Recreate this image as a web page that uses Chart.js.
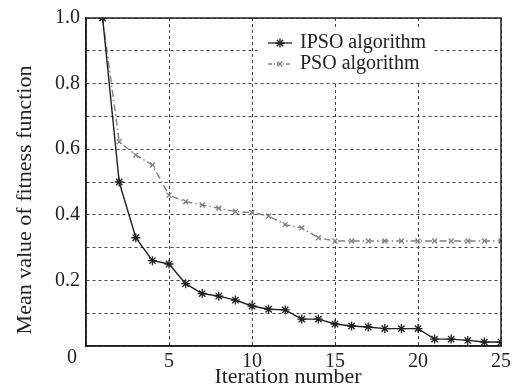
<!DOCTYPE html>
<html>
<head>
<meta charset="utf-8">
<script src="https://cdn.jsdelivr.net/npm/chart.js@4.4.1/dist/chart.umd.min.js"></script>
<style>
  html, body { margin: 0; padding: 0; background: #fff; }
  #wrap { width: 522px; height: 386px; }
</style>
</head>
<body>
<div id="wrap"><canvas id="grafico"></canvas></div>
<script>
// ---- DADOS ----
const iteracoes = [1, 2, 3, 4, 5, 6, 7, 8, 9, 10, 11, 12, 13, 14, 15, 16, 17, 18, 19, 20, 21, 22, 23, 24, 25];
const ipsoValores = [1.0, 0.50, 0.33, 0.26, 0.25, 0.19, 0.16, 0.152, 0.14, 0.122, 0.112, 0.11, 0.082, 0.082, 0.067, 0.061, 0.058, 0.053, 0.053, 0.053, 0.021, 0.021, 0.017, 0.012, 0.012];
const psoValores = [1.0, 0.623, 0.582, 0.552, 0.46, 0.44, 0.43, 0.42, 0.41, 0.407, 0.396, 0.37, 0.36, 0.33, 0.32, 0.32, 0.32, 0.32, 0.32, 0.32, 0.32, 0.32, 0.32, 0.32, 0.32];
const yRotulos = ["0.2", "0.4", "0.6", "0.8", "1.0"];
const xRotulos = ["5", "10", "15", "20", "25"];
const nomesSeries = ["IPSO algorithm", "PSO algorithm"];
const tituloX = "Iteration number";
const tituloY = "Mean value of fitness function";

const fonte = '"Liberation Serif", "Times New Roman", serif';

const estiloIpso = { cor: "#222", dash: [], ponto: "star", raio: 4.5 };
const estiloPso = { cor: "#808080", dash: [7, 3, 1.5, 3], ponto: "crossRot", raio: 3.5 };

// ---- PLUGIN: moldura, titulos, "0" do canto e legenda ----
const extras = {
    id: "extras",
    afterDraw(chart) {
        const ctx = chart.ctx;
        const a = chart.chartArea;
        ctx.save();
        ctx.strokeStyle = "#222";
        ctx.lineWidth = 1.5;
        ctx.strokeRect(a.left, a.top, a.right - a.left, a.bottom - a.top);

        ctx.fillStyle = "#222";
        ctx.font = "20px " + fonte;
        ctx.textAlign = "center";
        ctx.textBaseline = "middle";
        ctx.fillText("0", a.left - 14, a.bottom + 12);

        // titulos dos eixos
        ctx.font = "22px " + fonte;
        ctx.textBaseline = "alphabetic";
        ctx.fillText(tituloX, a.left + 202, chart.height - 3);
        ctx.save();
        ctx.translate(31, a.top + 182);
        ctx.rotate(-Math.PI / 2);
        ctx.fillText(tituloY, 0, 0);
        ctx.restore();

        // legenda
        ctx.font = "20px " + fonte;
        ctx.textBaseline = "middle";
        const lx = a.left + 172, ly = a.top + 12;
        ctx.fillStyle = "#fff";
        ctx.fillRect(lx, ly, 176, 52);
        [estiloIpso, estiloPso].forEach((e, i) => {
            const y = ly + 13 + i * 21;
            ctx.strokeStyle = e.cor;
            ctx.lineWidth = 1.3;
            ctx.setLineDash(e.dash.length ? [4, 2, 1, 2] : []);
            ctx.beginPath();
            ctx.moveTo(lx + 10, y);
            ctx.lineTo(lx + 34, y);
            ctx.stroke();
            ctx.setLineDash([]);
            Chart.helpers.drawPoint(ctx, {
                pointStyle: e.ponto, radius: e.raio, rotation: 0,
                borderWidth: 1.3
            }, lx + 22, y);
            ctx.fillStyle = "#222";
            ctx.textAlign = "left";
            ctx.fillText(nomesSeries[i], lx + 42, y);
        });
        ctx.restore();
    }
};

function serie(rotulo, valores, e) {
    return {
        label: rotulo,
        data: iteracoes.map((x, i) => ({ x: x, y: valores[i] })),
        borderColor: e.cor,
        backgroundColor: e.cor,
        borderWidth: 1.4,
        borderDash: e.dash,
        pointStyle: e.ponto,
        pointRadius: e.raio,
        pointBorderWidth: 1.3,
        pointBorderColor: e.cor,
        tension: 0
    };
}

const ctx = document.getElementById("grafico").getContext("2d");
new Chart(ctx, {
    type: "line",
    data: {
        datasets: [
            serie(nomesSeries[0], ipsoValores, estiloIpso),
            serie(nomesSeries[1], psoValores, estiloPso)
        ]
    },
    options: {
        responsive: true,
        maintainAspectRatio: false,
        animation: false,
        layout: { padding: { top: 18, right: 21, left: 0, bottom: 0 } },
        plugins: {
            legend: { display: false },
            tooltip: { enabled: false }
        },
        scales: {
            x: {
                type: "linear",
                min: 0,
                max: 25,
                afterFit: s => { s.height = 40; },
                ticks: {
                    stepSize: 5,
                    padding: 4,
                    color: "#222",
                    font: { family: fonte, size: 20 },
                    maxRotation: 0,
                    callback: v => xRotulos[xRotulos.indexOf(String(v))] || ""
                },
                grid: { color: "#444", lineWidth: 1, drawTicks: false },
                border: { color: "#222", width: 1.5, dash: [3, 3] }
            },
            y: {
                min: 0,
                max: 1,
                afterFit: s => { s.width = 86; },
                ticks: {
                    stepSize: 0.1,
                    padding: 6,
                    color: "#222",
                    font: { family: fonte, size: 20 },
                    callback: v => {
                        const t = Number(v).toFixed(1);
                        return yRotulos.includes(t) ? t : "";
                    }
                },
                grid: { color: "#444", lineWidth: 1, drawTicks: false },
                border: { color: "#222", width: 1.5, dash: [3, 3] }
            }
        }
    },
    plugins: [extras]
});
</script>
</body>
</html>
